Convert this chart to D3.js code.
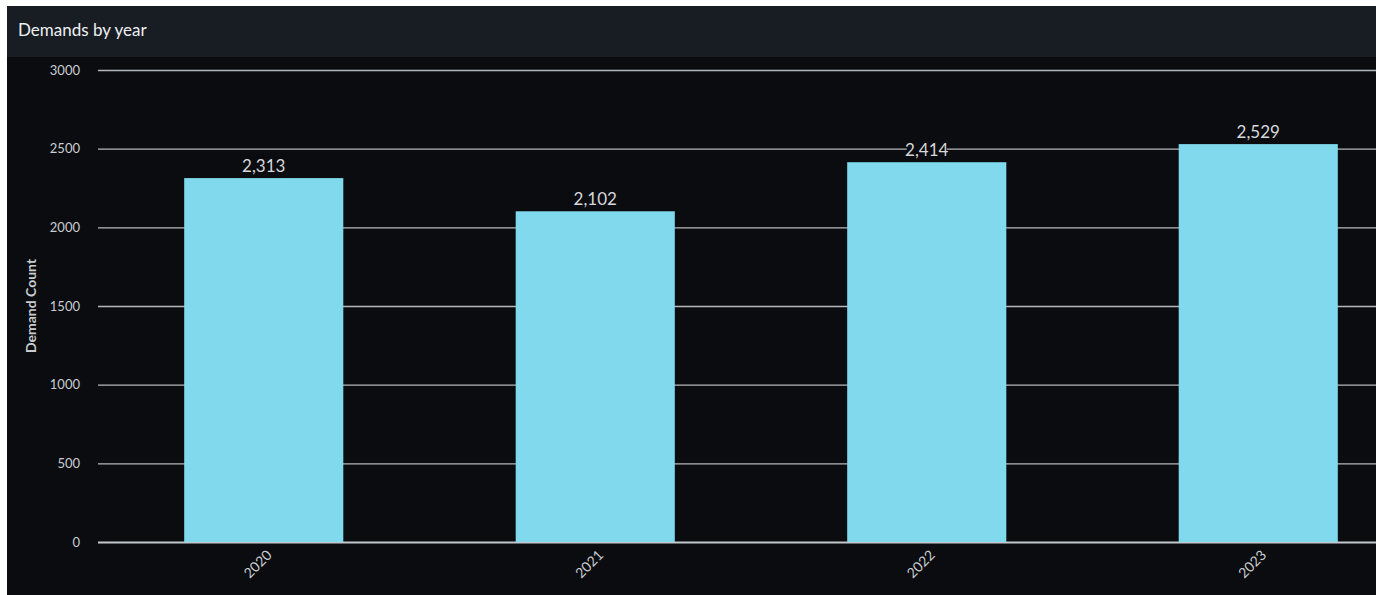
<!DOCTYPE html>
<html>
<head>
<meta charset="utf-8">
<script src="https://cdn.jsdelivr.net/npm/d3@7"></script>
<style>
    body { margin: 0; background: #ffffff; font-family: Lato, "Open Sans", sans-serif; }
    #chart { position: absolute; left: 7px; top: 6px; }
    .axis text { fill: #c9ccd1; font-size: 13px; font-family: Lato, sans-serif; }
    .axis .domain { display: none; }
</style>
</head>
<body>
<div id="chart"></div>
<script>
// data
var years = ["2020", "2021", "2022", "2023"];
var demandCounts = [2313, 2102, 2414, 2529];
var yTicks = [0, 500, 1000, 1500, 2000, 2500, 3000];

var width = 1369, height = 589;
var headerH = 51;
var margin = { top: 64, right: -48, bottom: 53, left: 91 };
var innerW = width - margin.left - margin.right;
var innerH = height - margin.top - margin.bottom;

var svg = d3.select("#chart").append("svg")
    .attr("width", width)
    .attr("height", height);

// panel background
svg.append("rect").attr("width", width).attr("height", height).attr("fill", "#0a0c10");
svg.append("rect").attr("width", width).attr("height", headerH).attr("fill", "#181c23");
svg.append("text")
    .attr("x", 11)
    .attr("y", 30)
    .attr("fill", "#eef0f2")
    .style("font-size", "17px")
    .style("font-family", "Lato, sans-serif")
    .text("Demands by year");

var g = svg.append("g")
    .attr("transform", "translate(" + margin.left + "," + margin.top + ")");

var xScale = d3.scaleBand()
    .domain(years)
    .range([0, innerW])
    .paddingInner(0.52)
    .paddingOuter(0.26);

var yScale = d3.scaleLinear()
    .domain([0, 3000])
    .range([innerH, 0]);

// y grid + labels
var yAxis = g.append("g")
    .attr("class", "y axis")
    .call(d3.axisLeft(yScale).tickValues(yTicks).tickSize(0).tickPadding(18).tickFormat(d3.format("d")));
yAxis.selectAll("line").remove();

g.append("g")
    .selectAll("line")
    .data(yTicks)
    .enter().append("line")
    .attr("x1", 0)
    .attr("x2", width)
    .attr("y1", function (d) { return yScale(d) + 0.5; })
    .attr("y2", function (d) { return yScale(d) + 0.5; })
    .attr("stroke", function (d) { return d === 0 ? "#c4c7cc" : "#b4b7bb"; })
    .attr("stroke-width", function (d) { return d === 0 ? 2 : 1.3; });

g.append("text")
    .attr("transform", "translate(" + (-62) + "," + (innerH / 2) + ") rotate(-90)")
    .attr("text-anchor", "middle")
    .attr("fill", "#c9ccd1")
    .style("font-size", "14px")
    .style("font-weight", "bold")
    .style("font-family", "Lato, sans-serif")
    .text("Demand Count");

// bars
g.selectAll(".bar")
    .data(demandCounts)
    .enter().append("rect")
    .attr("class", "bar")
    .attr("x", function (d, i) { return xScale(years[i]); })
    .attr("y", function (d) { return yScale(d); })
    .attr("width", xScale.bandwidth())
    .attr("height", function (d) { return innerH - yScale(d); })
    .attr("fill", "#80d9ec");

// value labels with dark backing
var fmt = d3.format(",");
var labels = g.selectAll(".val")
    .data(demandCounts)
    .enter().append("g")
    .attr("class", "val")
    .attr("transform", function (d, i) {
        return "translate(" + (xScale(years[i]) + xScale.bandwidth() / 2) + "," + (yScale(d) - 6) + ")";
    });
labels.append("rect")
    .attr("x", -20)
    .attr("y", -15)
    .attr("width", 40)
    .attr("height", 19)
    .attr("fill", "#0a0c10");
labels.append("text")
    .attr("text-anchor", "middle")
    .attr("fill", "#d6d8db")
    .style("font-size", "17px")
    .style("font-family", "Lato, sans-serif")
    .text(function (d) { return fmt(d); });

// x axis labels
var xAxis = g.append("g")
    .attr("class", "x axis")
    .attr("transform", "translate(0," + innerH + ")")
    .call(d3.axisBottom(xScale).tickSize(0).tickPadding(0));
xAxis.selectAll("text")
    .style("font-size", "14px")
    .attr("text-anchor", "end")
    .attr("dy", "0")
    .attr("transform", "translate(9,14) rotate(-45)");
</script>
</body>
</html>
